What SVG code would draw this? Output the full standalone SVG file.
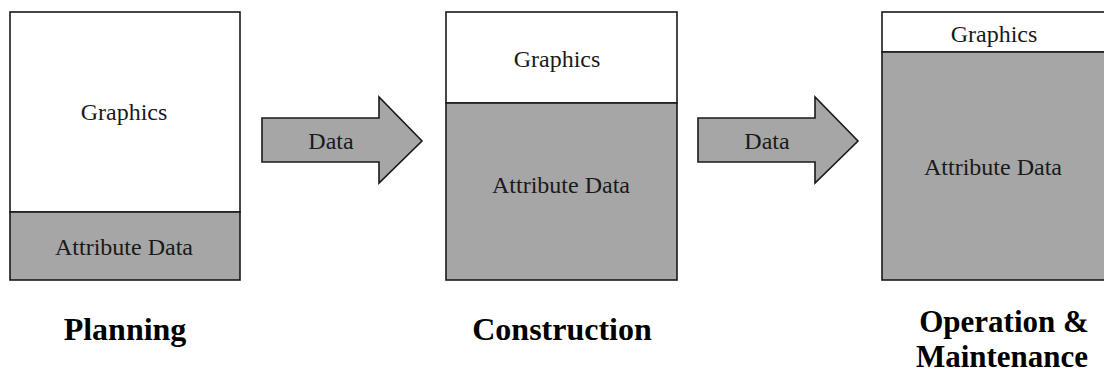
<svg xmlns="http://www.w3.org/2000/svg" width="1104" height="373" viewBox="0 0 1104 373">
<style>
.box{stroke:#1a1a1a;stroke-width:1.6}
.w{fill:#ffffff}
.g{fill:#a6a6a6}
.t{font-family:"Liberation Serif","Times New Roman",serif;font-size:24px;fill:#1a1a1a;text-anchor:middle}
.b{font-family:"Liberation Serif","Times New Roman",serif;font-size:32px;font-weight:bold;fill:#000;text-anchor:middle}
.b2{font-size:31px}
</style>
<rect width="1104" height="373" fill="#fff"/>
<g id="planning">
<rect class="box w" x="10" y="12" width="230" height="200"/>
<rect class="box g" x="10" y="212" width="230" height="68"/>
<text class="t" x="124" y="120">Graphics</text>
<text class="t" x="124" y="255">Attribute Data</text>
<text class="b" x="125" y="340">Planning</text>
</g>
<g id="construction">
<rect class="box w" x="446" y="12" width="231" height="91"/>
<rect class="box g" x="446" y="103" width="231" height="177"/>
<text class="t" x="557" y="67">Graphics</text>
<text class="t" x="561" y="193">Attribute Data</text>
<text class="b" x="562" y="340">Construction</text>
</g>
<g id="operation">
<rect class="box w" x="882" y="12" width="232" height="40"/>
<rect class="box g" x="882" y="52" width="232" height="228"/>
<text class="t" x="994" y="42">Graphics</text>
<text class="t" x="993" y="175">Attribute Data</text>
<text class="b b2" x="1004" y="332">Operation &amp;</text>
<text class="b b2" x="1002" y="367">Maintenance</text>
</g>
<g id="connectors">
<g id="arrow1">
<polygon class="box g" points="262,118 379,118 379,97 422,141 379,183 379,162 262,162"/>
<text class="t" x="331" y="149">Data</text>
</g>
<g id="arrow2">
<polygon class="box g" points="698,118 815,118 815,97 858,141 815,183 815,162 698,162"/>
<text class="t" x="767" y="149">Data</text>
</g>
</g>
</svg>
